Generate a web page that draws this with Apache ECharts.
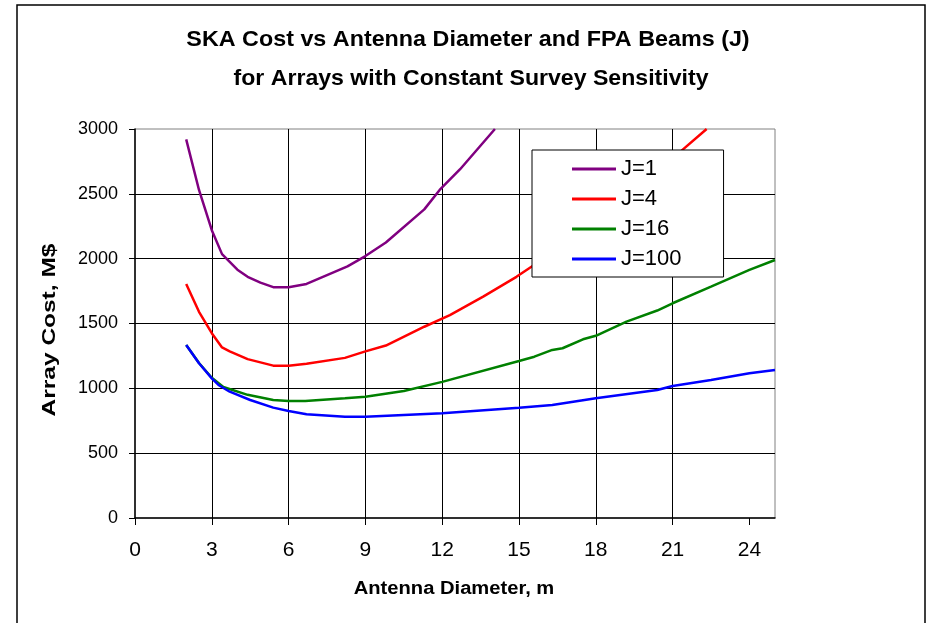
<!DOCTYPE html>
<html>
<head>
<meta charset="utf-8">
<script src="https://cdn.jsdelivr.net/npm/echarts@6/dist/echarts.min.js"></script>
<style>html,body{margin:0;padding:0;background:#fff;}#chart{width:930px;height:623px;}</style>
</head>
<body>
<div id="chart"></div>
<script>
// Antenna diameter (m) and array cost (M$) per FPA beam count J
const diamJ1 = [2, 2.5, 3, 3.4, 4, 4.4, 4.9, 5.4, 6, 6.7, 8.3, 9, 9.8, 11.3, 11.9, 12.7, 14.06];
const costJ1 = [2920, 2530, 2220, 2035, 1915, 1860, 1815, 1780, 1780, 1805, 1940, 2020, 2125, 2380, 2530, 2690, 3000];

const diamJ4 = [2, 2.5, 3, 3.4, 3.7, 4.4, 5.4, 6, 6.7, 8.2, 9, 9.8, 11.3, 12.3, 13.6, 14.9, 15.5, 18, 21.35, 22.33];
const costJ4 = [1805, 1590, 1425, 1315, 1285, 1225, 1175, 1175, 1190, 1235, 1285, 1330, 1475, 1565, 1707, 1860, 1940, 2290, 2833, 3000];

const diamJ16 = [2, 2.5, 3, 3.45, 4.4, 5.4, 6, 6.65, 8.2, 9, 10.5, 12, 15, 15.6, 16.3, 16.7, 17.5, 18, 19.2, 20.4, 21, 22.5, 24, 25];
const costJ16 = [1334, 1195, 1082, 1010, 950, 910, 902, 902, 923, 935, 980, 1050, 1211, 1244, 1296, 1309, 1378, 1405, 1514, 1600, 1656, 1784, 1913, 1990];

const diamJ100 = [2, 2.5, 3, 3.26, 3.7, 4.5, 5.4, 6, 6.7, 8.2, 9, 12, 15, 16.3, 18, 20.4, 21, 22.5, 24, 25];
const costJ100 = [1334, 1193, 1077, 1026, 974, 910, 851, 825, 800, 781, 781, 807, 851, 871, 923, 987, 1018, 1064, 1116, 1141];

const seriesNames = ['J=1', 'J=4', 'J=16', 'J=100'];
const xTicks = [0, 3, 6, 9, 12, 15, 18, 21, 24];

const FONT = '"Liberation Sans", Arial, sans-serif';
const pairs = (xs, ys) => xs.map((x, i) => [x, ys[i]]);

const chart = echarts.init(document.getElementById('chart'), null, {renderer: 'canvas'});
const mk = (name, xs, ys, color) => ({
  name: name, type: 'line', data: pairs(xs, ys), showSymbol: false, symbol: 'none',
  lineStyle: {color: color, width: 2.5}, itemStyle: {color: color},
  clip: true, smooth: false, animation: false
});

chart.setOption({
  animation: false,
  backgroundColor: '#fff',
  graphic: [
    {type: 'rect', shape: {x: 17, y: 5, width: 908, height: 640}, style: {fill: 'none', stroke: '#000', lineWidth: 1.5}, z: 0},
    {type: 'text', x: 468, y: 40, scaleX: 1.06, style: {text: 'SKA Cost vs Antenna Diameter and FPA Beams (J)', font: 'bold 22px ' + FONT, fill: '#000', textAlign: 'center', textVerticalAlign: 'middle', align: 'center', verticalAlign: 'middle'}},
    {type: 'text', x: 471, y: 78.5, scaleX: 1.05, style: {text: 'for Arrays with Constant Survey Sensitivity', font: 'bold 22px ' + FONT, fill: '#000', textAlign: 'center', textVerticalAlign: 'middle', align: 'center', verticalAlign: 'middle'}},
    {type: 'text', x: 50, y: 330, rotation: Math.PI / 2, scaleX: 1.36, scaleY: 1, style: {text: 'Array Cost, M$', font: 'bold 18px ' + FONT, fill: '#000', textAlign: 'center', textVerticalAlign: 'middle', align: 'center', verticalAlign: 'middle'}},
    {type: 'text', x: 454, y: 589, scaleX: 1.12, style: {text: 'Antenna Diameter, m', font: 'bold 18px ' + FONT, fill: '#000', textAlign: 'center', textVerticalAlign: 'middle', align: 'center', verticalAlign: 'middle'}}
  ],
  grid: {left: 135, right: 155, top: 129, bottom: 105, show: true, borderColor: '#808080', borderWidth: 1, backgroundColor: 'transparent'},
  legend: {
    data: seriesNames, orient: 'vertical', left: 532, top: 150,
    backgroundColor: '#fff', borderColor: '#000', borderWidth: 1,
    padding: [8, 42, 7, 40], itemWidth: 44, itemHeight: 3, itemGap: 8, icon: 'rect',
    textStyle: {fontSize: 22, lineHeight: 22, fontFamily: FONT, color: '#000'}
  },
  xAxis: {
    type: 'value', min: 0, max: 25, interval: 3,
    axisLine: {show: true, onZero: false, lineStyle: {color: '#000', width: 1.5}},
    axisTick: {show: true, length: 7, lineStyle: {color: '#000'}, customValues: xTicks},
    axisLabel: {fontSize: 21, fontFamily: FONT, color: '#000', margin: 22, customValues: xTicks, formatter: v => String(v)},
    splitLine: {show: true, lineStyle: {color: '#000', width: 1}, showMinLine: false, showMaxLine: false}
  },
  yAxis: {
    type: 'value', min: 0, max: 3000, interval: 500,
    axisLine: {show: true, lineStyle: {color: '#000', width: 1.5}},
    axisTick: {show: true, length: 6, lineStyle: {color: '#000'}},
    axisLabel: {fontSize: 18, fontFamily: FONT, color: '#000', margin: 17, formatter: v => String(v)},
    splitLine: {show: true, lineStyle: {color: '#000', width: 1}, showMinLine: false, showMaxLine: false}
  },
  series: [
    mk(seriesNames[0], diamJ1, costJ1, '#800080'),
    mk(seriesNames[1], diamJ4, costJ4, '#FF0000'),
    mk(seriesNames[2], diamJ16, costJ16, '#008000'),
    mk(seriesNames[3], diamJ100, costJ100, '#0000FF')
  ]
});
</script>
</body>
</html>
